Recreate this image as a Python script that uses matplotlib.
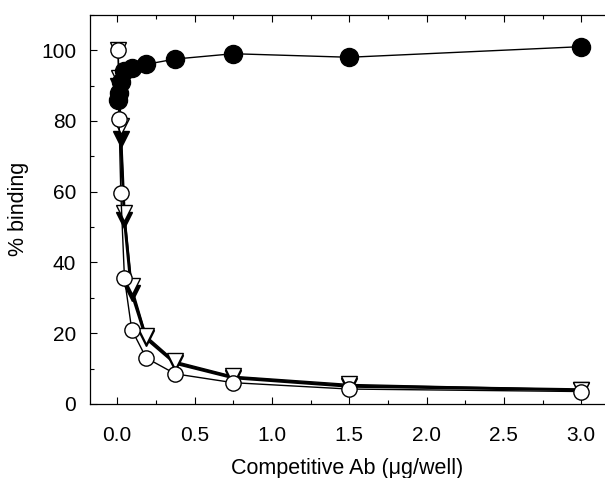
import numpy as np
import matplotlib.pyplot as plt
from matplotlib.ticker import MultipleLocator

plt.rcParams['font.family'] = ['Liberation Sans', 'DejaVu Sans']

# Competitive Ab dose (ug/well), twofold dilutions
dose = [0.0059, 0.0117, 0.0234, 0.0469, 0.0938, 0.1875, 0.375, 0.75, 1.5, 3.0]

# % binding for each competitor
ctrl_filled_circle = [86, 88, 91, 94, 95, 96, 97.5, 99, 98, 101]
open_circle = [100, 80.5, 59.5, 35.5, 21, 13, 8.5, 6, 4.2, 3.5]
open_triangle = [100, 92, 78.5, 54, 33.2, 19.2, 12, 7.8, 5.5, 4]
filled_triangle = [90, 86, 75, 52, 31.4, 18.5, 11.5, 7.4, 5, 4]

fig = plt.figure(figsize=(6.05, 4.78), dpi=100)
ax = fig.add_axes([0.149, 0.155, 0.85, 0.814])

ax.plot(dose, filled_triangle, color='black', lw=2.2, marker='v', ms=11,
        mfc='black', mec='black', zorder=2)
ax.plot(dose, open_triangle, color='black', lw=1.0, marker='v', ms=11,
        mfc='white', mec='black', mew=1.0, zorder=3)
ax.plot(dose, open_circle, color='black', lw=1.0, marker='o', ms=11,
        mfc='white', mec='black', mew=1.0, zorder=3)
ax.plot(dose, ctrl_filled_circle, color='black', lw=1.0, marker='o', ms=13,
        mfc='black', mec='black', zorder=4)

ax.set_xlim(-0.175, 3.15)
ax.set_ylim(0, 110)
ax.set_xticks([0.0, 0.5, 1.0, 1.5, 2.0, 2.5, 3.0])
ax.set_xticklabels(['0.0', '0.5', '1.0', '1.5', '2.0', '2.5', '3.0'])
ax.set_yticks([0, 20, 40, 60, 80, 100])
ax.xaxis.set_minor_locator(MultipleLocator(0.25))
ax.yaxis.set_minor_locator(MultipleLocator(10))

ax.tick_params(axis='both', which='both', direction='in', top=True, right=False,
               labelsize=15, width=0.8)
ax.tick_params(axis='both', which='major', length=5)
ax.tick_params(axis='both', which='minor', length=3)
ax.tick_params(axis='x', which='major', pad=16)
ax.tick_params(axis='y', which='major', pad=10)

for s in ax.spines.values():
    s.set_linewidth(0.9)
ax.spines['right'].set_visible(False)

ax.set_xlabel('Competitive Ab (\u03bcg/well)', fontsize=15.5, labelpad=9)
ax.set_ylabel('% binding', fontsize=15.5, labelpad=9)

fig.savefig('out.png', dpi=100)
